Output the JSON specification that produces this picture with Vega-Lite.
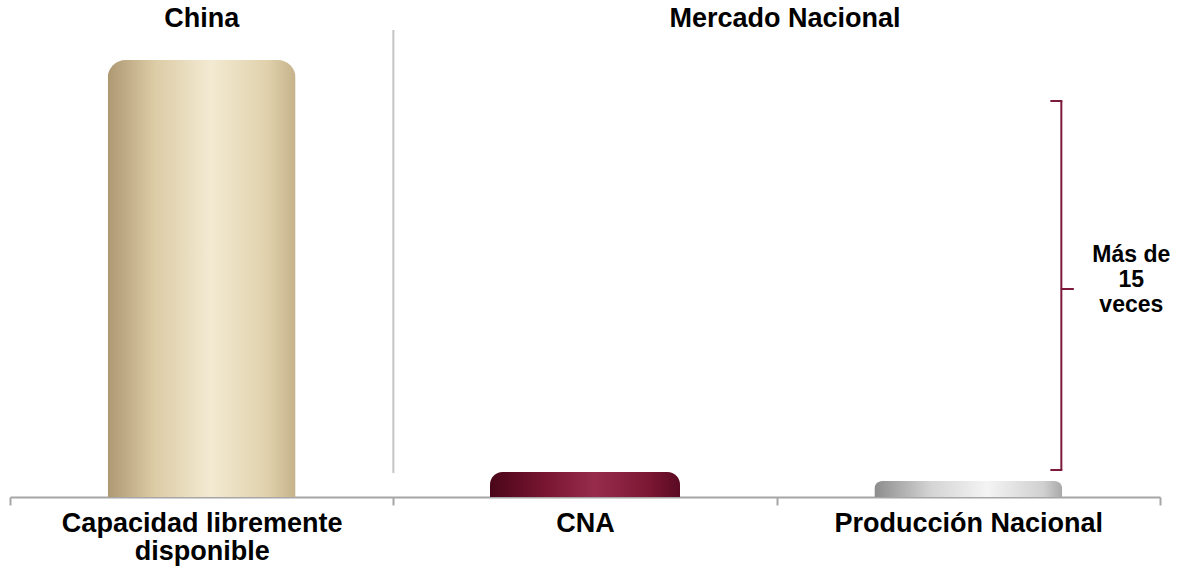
{
  "$schema": "https://vega.github.io/schema/vega-lite/v6.json",
  "width": 1150,
  "height": 497,
  "autosize": {"type": "none"},
  "padding": {"left": 10, "top": 0, "right": 21, "bottom": 72},
  "background": "white",
  "config": {"view": {"stroke": null}, "font": "Liberation Sans"},
  "encoding": {
    "x": {
      "field": "cat",
      "type": "nominal",
      "scale": {"domain": ["Capacidad libremente disponible", "CNA", "Producción Nacional"], "paddingInner": 0, "paddingOuter": 0},
      "axis": {
        "title": null,
        "labelAngle": 0,
        "tickBand": "extent",
        "domainColor": "#a6a6a6",
        "domainWidth": 2,
        "tickColor": "#a6a6a6",
        "tickWidth": 2,
        "tickSize": 8,
        "labelFont": "Liberation Sans",
        "labelFontWeight": "bold",
        "labelFontSize": 27,
        "labelColor": "#000000",
        "labelLimit": 500,
        "labelPadding": 5,
        "labelLineHeight": 28,
        "labelExpr": "datum.value == 'Capacidad libremente disponible' ? ['Capacidad libremente', 'disponible'] : datum.label"
      }
    }
  },
  "layer": [
    {
      "data": {"name": "bars", "values": [
        {"cat": "Capacidad libremente disponible", "value": 437},
        {"cat": "CNA", "value": 25},
        {"cat": "Producción Nacional", "value": 16}
      ]},
      "transform": [{"filter": "datum.cat == 'Capacidad libremente disponible'"}],
      "mark": {"type": "bar", "size": 188, "cornerRadiusTopLeft": 18, "cornerRadiusTopRight": 18,
        "color": {"gradient": "linear", "x1": 0, "y1": 0, "x2": 1, "y2": 0, "stops": [
          {"offset": 0, "color": "#ad9872"}, {"offset": 0.25, "color": "#dccca6"}, {"offset": 0.55, "color": "#f3ead2"}, {"offset": 0.85, "color": "#e0d1ac"}, {"offset": 1, "color": "#c5b28a"}]}},
      "encoding": {"y": {"field": "value", "type": "quantitative", "scale": {"domain": [0, 497], "nice": false}, "axis": null}}
    },
    {
      "data": {"name": "bars"},
      "transform": [{"filter": "datum.cat == 'CNA'"}],
      "mark": {"type": "bar", "size": 190, "cornerRadiusTopLeft": 14, "cornerRadiusTopRight": 14,
        "color": {"gradient": "linear", "x1": 0, "y1": 0, "x2": 1, "y2": 0, "stops": [
          {"offset": 0, "color": "#4a0619"}, {"offset": 0.3, "color": "#7a1632"}, {"offset": 0.55, "color": "#972c4c"}, {"offset": 0.85, "color": "#7a1632"}, {"offset": 1, "color": "#5a0a22"}]}},
      "encoding": {"y": {"field": "value", "type": "quantitative"}}
    },
    {
      "data": {"name": "bars"},
      "transform": [{"filter": "datum.cat == 'Producción Nacional'"}],
      "mark": {"type": "bar", "size": 188, "cornerRadiusTopLeft": 10, "cornerRadiusTopRight": 10,
        "color": {"gradient": "linear", "x1": 0, "y1": 0, "x2": 1, "y2": 0, "stops": [
          {"offset": 0, "color": "#8c8c8c"}, {"offset": 0.3, "color": "#d4d4d4"}, {"offset": 0.6, "color": "#f4f4f4"}, {"offset": 0.9, "color": "#d0d0d0"}, {"offset": 1, "color": "#a8a8a8"}]}},
      "encoding": {"y": {"field": "value", "type": "quantitative"}}
    },
    {
      "data": {"values": [{"cat": "Capacidad libremente disponible", "y1": 24, "y2": 467}]},
      "mark": {"type": "rule", "xOffset": 191.7, "color": "#c4c4c4", "strokeWidth": 2},
      "encoding": {"y": {"field": "y1", "type": "quantitative"}, "y2": {"field": "y2"}}
    },
    {
      "data": {"values": [{"cat": "Capacidad libremente disponible", "y": 470, "t": "China"}]},
      "mark": {"type": "text", "fontSize": 27, "fontWeight": "bold", "font": "Liberation Sans", "color": "#000000", "baseline": "alphabetic", "align": "center"},
      "encoding": {"y": {"field": "y", "type": "quantitative"}, "text": {"field": "t"}}
    },
    {
      "data": {"values": [{"cat": "CNA", "y": 470, "t": "Mercado Nacional"}]},
      "mark": {"type": "text", "fontSize": 27, "fontWeight": "bold", "font": "Liberation Sans", "color": "#000000", "baseline": "alphabetic", "align": "center", "xOffset": 200},
      "encoding": {"y": {"field": "y", "type": "quantitative"}, "text": {"field": "t"}}
    },
    {
      "data": {"values": [{"cat": "Producción Nacional", "y1": 27, "y2": 396}]},
      "mark": {"type": "rule", "xOffset": 93, "color": "#7b1a3c", "strokeWidth": 2},
      "encoding": {"y": {"field": "y1", "type": "quantitative"}, "y2": {"field": "y2"}}
    },
    {
      "data": {"values": [{"cat": "Producción Nacional", "y": 396}, {"cat": "Producción Nacional", "y": 27}]},
      "mark": {"type": "tick", "orient": "horizontal", "size": 12, "thickness": 2, "xOffset": 88, "color": "#7b1a3c", "opacity": 1},
      "encoding": {"y": {"field": "y", "type": "quantitative"}}
    },
    {
      "data": {"values": [{"cat": "Producción Nacional", "y": 208}]},
      "mark": {"type": "tick", "orient": "horizontal", "size": 13, "thickness": 2, "xOffset": 99, "color": "#7b1a3c", "opacity": 1},
      "encoding": {"y": {"field": "y", "type": "quantitative"}}
    },
    {
      "data": {"values": [{"cat": "Producción Nacional", "y": 242, "t": "Más de|15|veces"}]},
      "mark": {"type": "text", "lineBreak": "|", "fontSize": 23, "lineHeight": 25, "fontWeight": "bold", "font": "Liberation Sans", "color": "#000000", "baseline": "middle", "align": "center", "xOffset": 163},
      "encoding": {"y": {"field": "y", "type": "quantitative"}, "text": {"field": "t"}}
    }
  ]
}
